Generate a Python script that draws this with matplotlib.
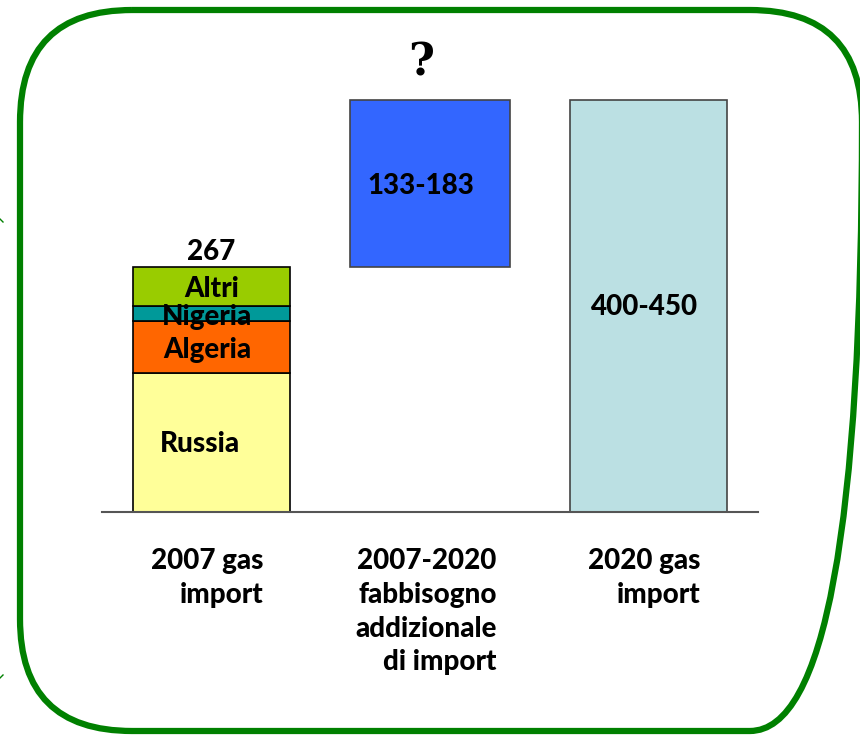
import matplotlib.pyplot as plt
from matplotlib.patches import FancyBboxPatch
from matplotlib.transforms import ScaledTranslation

plt.rcParams['font.family'] = ['Lato', 'DejaVu Sans']

categories = ["2007 gas\nimport", "2007-2020\nfabbisogno\naddizionale\ndi import", "2020 gas\nimport"]
segments = ["Russia", "Algeria", "Nigeria", "Altri"]
seg_values = [152, 57, 16, 42]
seg_colors = ["#FFFF99", "#FF6600", "#009999", "#99CC00"]
total_2007 = 267
import_2020 = 450
label_2007 = "267"
label_extra = "133-183"
label_2020 = "400-450"

FW = "black"
FS = 20

fig = plt.figure(figsize=(8.6, 7.35), dpi=100)

# rounded green frame, drawn in pixel units
bg = fig.add_axes([0, 0, 1, 1])
bg.set_xlim(0, 860)
bg.set_ylim(735, 0)
bg.axis("off")
r = 112
frame = FancyBboxPatch((20 + r, 10 + r), 862 - 20 - 2 * r, 731 - 10 - 2 * r,
                       boxstyle="round,pad=%d" % r, fill=False,
                       edgecolor="#008000", linewidth=4.5, clip_on=False)
bg.add_patch(frame)
bg.plot([0, 3], [219, 222], color="#008000", lw=1)
bg.plot([0, 3], [678, 675], color="#008000", lw=1)

ax = fig.add_axes([102 / 860, 1 - 512 / 735, 656 / 860, 458 / 735])
ax.patch.set_alpha(0)
ax.set_xlim(-0.5, 2.5)
ax.set_ylim(0, 500)

w = 0.715
bottom = 0
for name, v, c in zip(segments, seg_values, seg_colors):
    ax.bar(0, v, w, bottom=bottom, color=c, edgecolor="black", linewidth=1.2)
    bottom += v

seg_label_pos = [(-0.05, 74), (-0.02, 177), (-0.02, 213), (0, 243)]
for name, (x, y) in zip(segments, seg_label_pos):
    ax.text(x, y, name, ha="center", va="center", fontsize=FS, fontweight=FW)

ax.text(0, total_2007 + 17, label_2007, ha="center", va="center", fontsize=FS, fontweight=FW)

ax.bar(1, import_2020 - total_2007, w * 1.02, bottom=total_2007,
       color="#3366FF", edgecolor="#444444", linewidth=1.2)
ax.text(0.96, 356, label_extra, ha="center", va="center", fontsize=FS, fontweight=FW)
ax.text(0.96, 490, "?", ha="center", va="center", fontsize=32, fontweight=FW,
        family=["DejaVu Serif"])

ax.bar(2, import_2020, w, color="#BBE0E3", edgecolor="#444444", linewidth=1.2)
ax.text(1.98, 224, label_2020, ha="center", va="center", fontsize=FS, fontweight=FW)

for s in ["top", "left", "right"]:
    ax.spines[s].set_visible(False)
ax.spines["bottom"].set_color("#555555")
ax.spines["bottom"].set_linewidth(1.5)
ax.set_yticks([])
ax.set_xticks([0, 1, 2])
ax.set_xticklabels(categories, fontsize=FS, fontweight=FW,
                   multialignment="right", linespacing=1.37, va="top")
ax.tick_params(axis="x", length=0, pad=26)
shift = ScaledTranslation(-4 / 100, 0, fig.dpi_scale_trans)
for lab in ax.get_xticklabels():
    lab.set_transform(lab.get_transform() + shift)

fig.savefig("out.png", dpi=100)
